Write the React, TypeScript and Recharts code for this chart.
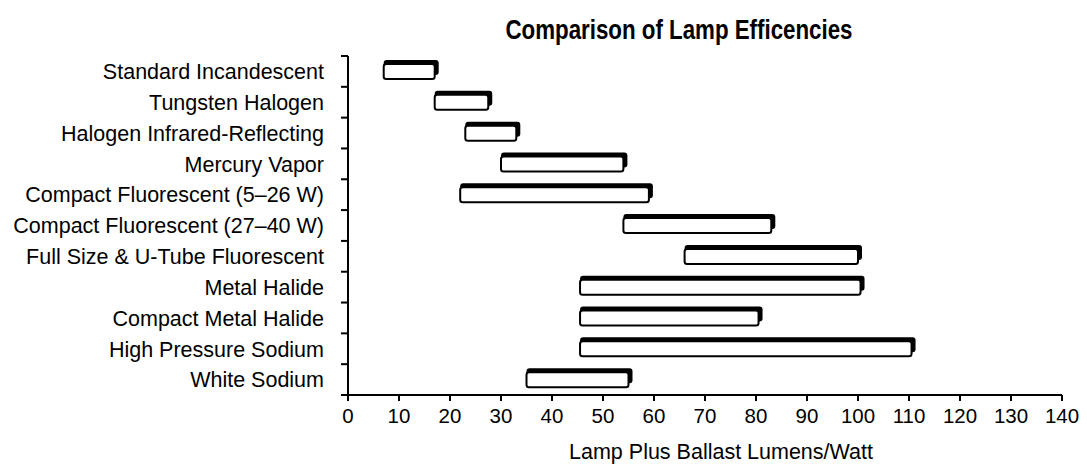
import React from "react";
import { BarChart, Bar, XAxis, YAxis } from "recharts";

// lamp types, top to bottom
const lamps = [
  "Standard Incandescent",
  "Tungsten Halogen",
  "Halogen Infrared-Reflecting",
  "Mercury Vapor",
  "Compact Fluorescent (5–26 W)",
  "Compact Fluorescent (27–40 W)",
  "Full Size & U-Tube Fluorescent",
  "Metal Halide",
  "Compact Metal Halide",
  "High Pressure Sodium",
  "White Sodium"
];

// efficacy range, lumens per watt
const lowValues = [7, 17, 23, 30, 22, 54, 66, 45.5, 45.5, 45.5, 35];
const highValues = [17, 27.5, 33, 54, 59, 83, 100, 100.5, 80.5, 110.5, 55];

const xTicks = [0, 10, 20, 30, 40, 50, 60, 70, 80, 90, 100, 110, 120, 130, 140];

const data = lamps.map((name, i) => ({ name, range: [lowValues[i], highValues[i]] }));

const TOP = 56;
const BOTTOM = 395;
const BAND = (BOTTOM - TOP) / lamps.length;
const FONT = '"Liberation Sans", Arial, Helvetica, sans-serif';

// white box with a dark 3D edge on top and right
function LampBox(props: any) {
  const { x, y, width, height } = props;
  if (width == null || height == null) return null;
  const d = 4;
  return (
    <g>
      <rect x={x} y={y - d} width={width + d} height={height} rx={3} fill="#000" />
      <rect
        x={x}
        y={y}
        width={width}
        height={height}
        rx={2.5}
        fill="#fff"
        stroke="#000"
        strokeWidth={2}
      />
    </g>
  );
}

function LampTick(props: any) {
  const { x, y, payload, index } = props;
  const axisX = x + 24;
  return (
    <g>
      <text x={x} y={y} dy="0.36em" textAnchor="end" fontFamily={FONT} fontSize={21.5} fill="#000">
        {payload.value}
      </text>
      <line x1={axisX - 7} x2={axisX} y1={y + BAND / 2} y2={y + BAND / 2} stroke="#000" strokeWidth={2} />
      {index === 0 && (
        <line x1={axisX - 7} x2={axisX} y1={y - BAND / 2} y2={y - BAND / 2} stroke="#000" strokeWidth={2} />
      )}
    </g>
  );
}

export default function App() {
  return (
    <div style={{ position: "absolute", left: 0, top: 0, background: "#fff" }}>
      <BarChart
        width={1087}
        height={471}
        data={data}
        layout="vertical"
        margin={{ top: TOP, right: 25, bottom: 36, left: 0 }}
        barCategoryGap={0}
      >
        <text
          x={679}
          y={39}
          textAnchor="middle"
          fontFamily={FONT}
          fontWeight="bold"
          fontSize={28}
          textLength={347}
          lengthAdjust="spacingAndGlyphs"
          fill="#000"
        >
          Comparison of Lamp Efficencies
        </text>
        <XAxis
          type="number"
          domain={[0, 140]}
          ticks={xTicks}
          interval={0}
          height={40}
          tickSize={6}
          tickMargin={7}
          axisLine={{ stroke: "#000", strokeWidth: 2 }}
          tickLine={{ stroke: "#000", strokeWidth: 2 }}
          tick={{ fill: "#000", fontSize: 20.5, fontFamily: FONT }}
          label={{
            value: "Lamp Plus Ballast Lumens/Watt",
            position: "bottom",
            offset: 9,
            dx: 16,
            fill: "#000",
            fontSize: 21.5,
            fontFamily: FONT
          }}
        />
        <YAxis
          type="category"
          dataKey="name"
          width={348}
          interval={0}
          tickSize={0}
          tickMargin={24}
          tickLine={false}
          axisLine={{ stroke: "#000", strokeWidth: 2 }}
          tick={(p: any) => <LampTick {...p} />}
        />
        <Bar dataKey="range" barSize={15} shape={(p: any) => <LampBox {...p} />} isAnimationActive={false} />
      </BarChart>
    </div>
  );
}
